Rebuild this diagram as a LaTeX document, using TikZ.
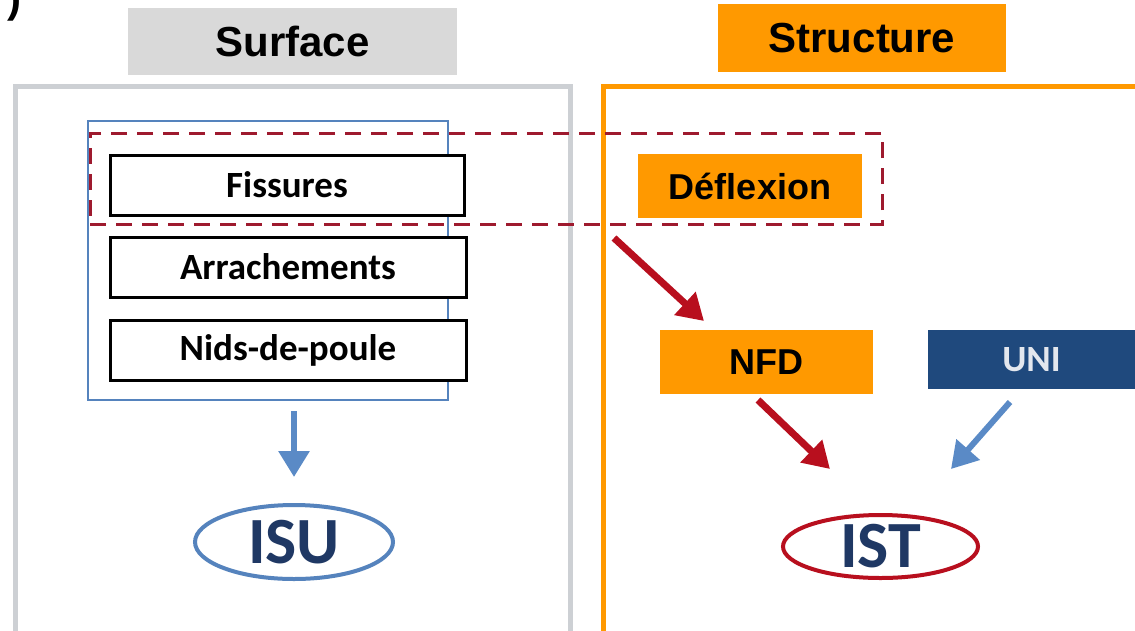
\documentclass[tikz,border=0pt]{standalone}
\usepackage{fontspec}
\setmainfont{Liberation Sans}
\newfontfamily\calib{Carlito}
\usetikzlibrary{arrows.meta,shapes.geometric}
\definecolor{lblgray}{HTML}{D9D9D9}
\definecolor{framegray}{HTML}{CDD0D4}
\definecolor{orng}{HTML}{FF9900}
\definecolor{bluebox}{HTML}{5583BD}
\definecolor{dashred}{HTML}{9E1A2E}
\definecolor{arrred}{HTML}{B80F1E}
\definecolor{arrblue}{HTML}{5A8AC6}
\definecolor{unifill}{HTML}{1F497D}
\definecolor{unitext}{HTML}{E3E7EE}
\definecolor{navy}{HTML}{1F3864}
\tikzset{
  title/.style={font=\bfseries\fontsize{42}{48}\selectfont, inner sep=0pt},
  orbox/.style={fill=orng, font=\bfseries\fontsize{36}{42}\selectfont, inner sep=0pt},
  defbox/.style={draw=black, line width=3pt, fill=white, minimum width=354pt, minimum height=60pt, inner sep=0pt, font=\calib\bfseries\fontsize{37}{42}\selectfont},
  ellip/.style={ellipse, line width=4pt, inner sep=0pt, font=\calib\bfseries\fontsize{66}{72}\selectfont, text=navy},
  bigarrow/.style={line width=7pt, -{Triangle[length=26pt,width=30pt]}},
}
\begin{document}
\begin{tikzpicture}[x=1pt,y=-1pt]
\useasboundingbox (0,0) rectangle (1135,630);
\clip (0,0) rectangle (1135,630);
\fill[white] (0,0) rectangle (1135,630);
% partial label at top-left
\node[font=\bfseries\fontsize{42}{48}\selectfont, anchor=base, inner sep=0pt] (lbl) at (14,12) {)};
% frames
\node[draw=framegray, line width=5pt, minimum width=555pt, minimum height=574pt, inner sep=0pt] (frameS) at (292.5,373) {};
\node[draw=orng, line width=5pt, minimum width=557pt, minimum height=574pt, inner sep=0pt] (frameT) at (881.5,373) {};
% titles
\node[title, fill=lblgray, minimum width=329pt, minimum height=67pt] (surf) at (292.5,41.5) {Surface};
\node[title, fill=orng, minimum width=288pt, minimum height=68pt] (struct) at (862,38) {Structure};
% blue group box
\node[draw=bluebox, line width=2.5pt, minimum width=360pt, minimum height=279pt, inner sep=0pt] (grp) at (268,260.5) {};
% defect boxes
\node[defbox] (fis) at (287,185) {Fissures};
\node[defbox, minimum width=356pt] (arr) at (288,267) {Arrachements};
\node[defbox, minimum width=356pt] (nid) at (288,350) {Nids-de-poule};
% dashed rectangle
\node[draw=dashred, line width=3pt, dash pattern=on 16pt off 10pt, minimum width=792pt, minimum height=91pt, inner sep=0pt] (dash) at (486,178.5) {};
% orange boxes
\node[orbox, minimum width=224pt, minimum height=64pt] (defl) at (750,186) {Déflexion};
\node[orbox, minimum width=213pt, minimum height=64pt] (nfd) at (766.5,362) {NFD};
\node[fill=unifill, text=unitext, minimum width=207pt, minimum height=59pt, inner sep=0pt, font=\calib\bfseries\fontsize{37}{42}\selectfont] (uni) at (1031.5,359.5) {UNI};
% ellipses
\node[ellip, draw=bluebox, minimum width=198pt, minimum height=74pt] (isu) at (294,542) {ISU};
\node[ellip, draw=arrred, minimum width=195pt, minimum height=63pt] (ist) at (880.5,546.5) {IST};
% arrow end points
\coordinate (d1) at (614,238);
\coordinate (d2) at (704,321);
\coordinate (n1) at (758,400);
\coordinate (n2) at (830,469);
\coordinate (u1) at (1010,402);
\coordinate (u2) at (951,469);
% arrows
\draw[bigarrow, draw=arrblue, fill=arrblue, line width=6pt] (isu.north |- grp.south) ++(0,10) -- ([yshift=26pt]isu.north);
\draw[bigarrow, draw=arrred, fill=arrred] (d1) -- (d2);
\draw[bigarrow, draw=arrred, fill=arrred] (n1) -- (n2);
\draw[bigarrow, draw=arrblue, fill=arrblue, line width=6pt] (u1) -- (u2);
\end{tikzpicture}
\end{document}
